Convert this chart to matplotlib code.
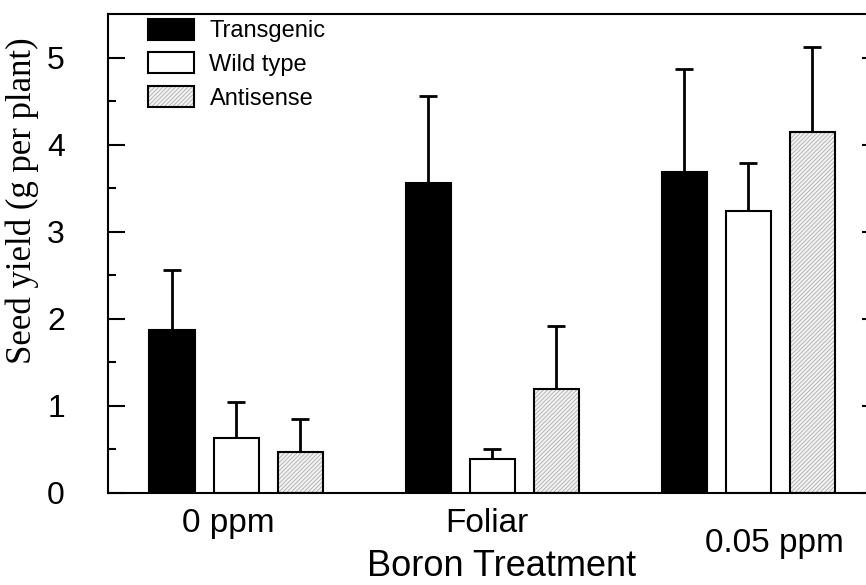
import numpy as np
import matplotlib
matplotlib.use("Agg")
import matplotlib.pyplot as plt
import matplotlib.transforms as mtransforms
from matplotlib.patches import Patch

# data
treatments = ["0 ppm", "Foliar", "0.05 ppm"]
series = ["Transgenic", "Wild type", "Antisense"]
transgenic = [1.87, 3.56, 3.69]
transgenic_err = [0.69, 1.00, 1.18]
wild_type = [0.63, 0.39, 3.24]
wild_type_err = [0.41, 0.12, 0.55]
antisense = [0.47, 1.19, 4.14]
antisense_err = [0.38, 0.73, 0.98]

plt.rcParams["font.family"] = ["Liberation Sans", "DejaVu Sans"]
plt.rcParams["hatch.linewidth"] = 0.5

fig = plt.figure(figsize=(8.66, 5.85), dpi=100)
ax = fig.add_axes([108 / 866, 1 - 493 / 585, 771 / 866, 479 / 585])

x = np.arange(len(treatments))
width = 0.176
pitch = 0.25
hatch_face = "#f2f2f2"
hatch_col = "#a0a0a0"
hatch_pat = "////////"

values = [transgenic, wild_type, antisense]
errors = [transgenic_err, wild_type_err, antisense_err]

for i, (vals, errs) in enumerate(zip(values, errors)):
    pos = x + (i - 1) * pitch
    ax.errorbar(pos, vals, yerr=[np.zeros(len(vals)), errs], fmt="none",
                ecolor="black", elinewidth=2, capsize=6.5, capthick=2, zorder=1)
    if i == 0:
        ax.bar(pos, vals, width, color="black", edgecolor="black", linewidth=1.5, zorder=2)
    elif i == 1:
        ax.bar(pos, vals, width, color="white", edgecolor="black", linewidth=1.5, zorder=2)
    else:
        ax.bar(pos, vals, width, color=hatch_face, edgecolor=hatch_col,
               hatch=hatch_pat, linewidth=0, zorder=2)
        ax.bar(pos, vals, width, fill=False, edgecolor="black", linewidth=1.5, zorder=3)

ax.set_xlim(-0.5, 2.51)
ax.set_ylim(0, 5.5)

ax.set_xticks(x)
ax.set_xticklabels(treatments, fontsize=24)
ax.tick_params(axis="x", length=0, pad=11)
shifts = [-8, -5, 26]
drops = [0, 0, -20]
for lab, dx, dy in zip(ax.get_xticklabels(), shifts, drops):
    lab.set_transform(lab.get_transform() +
                      mtransforms.ScaledTranslation(dx / 100, dy / 100, fig.dpi_scale_trans))

ax.set_yticks([0, 1, 2, 3, 4, 5])
ax.set_yticks(np.arange(0.5, 5.5, 1.0), minor=True)
ax.tick_params(axis="y", which="both", direction="in", right=True, width=1.5,
               labelsize=23, pad=31)
ax.tick_params(axis="y", which="major", length=12)
ax.tick_params(axis="y", which="minor", length=6)

for s in ax.spines.values():
    s.set_linewidth(1.5)

ax.set_xlabel("Boron Treatment", fontsize=26, va="baseline")
ax.xaxis.set_label_coords(0.511, -0.173)
ax.set_ylabel("Seed yield (g per plant)", fontsize=25,
              family=["Liberation Serif", "DejaVu Serif"])
ax.yaxis.set_label_coords(-0.09, 0.61)

handles = [
    Patch(facecolor="black", edgecolor="black", linewidth=1.5),
    Patch(facecolor="white", edgecolor="black", linewidth=1.5),
    (Patch(facecolor=hatch_face, edgecolor=hatch_col, hatch=hatch_pat, linewidth=0),
     Patch(fill=False, edgecolor="black", linewidth=1.5)),
]
ax.legend(handles, series, loc="upper left", bbox_to_anchor=(0.052, 0.99),
          frameon=False, fontsize=17, handlelength=1.95, handleheight=1.0,
          handletextpad=0.65, labelspacing=0.42, borderpad=0, borderaxespad=0)

fig.savefig("out.png", dpi=100)
